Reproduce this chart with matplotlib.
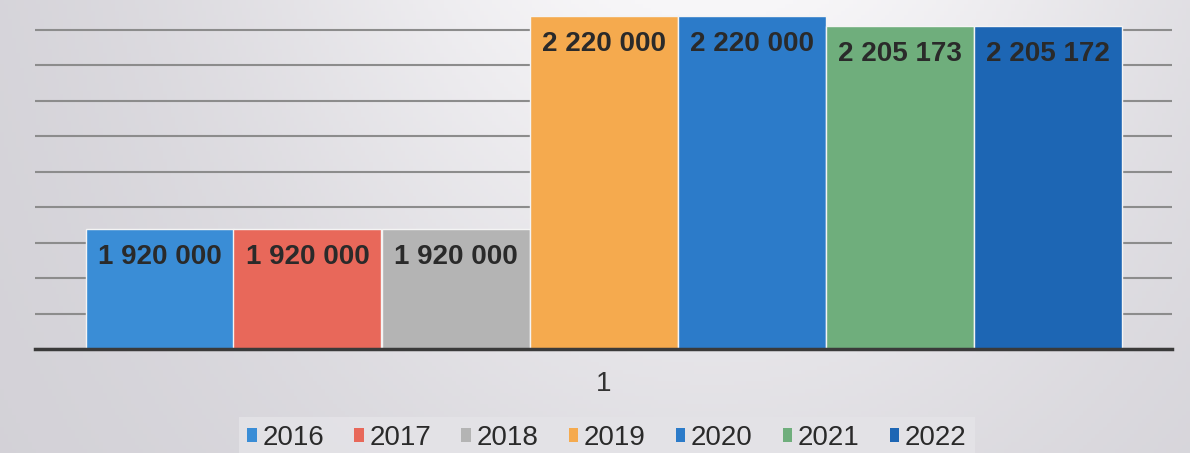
import numpy as np
import matplotlib
matplotlib.use("Agg")
import matplotlib.pyplot as plt
from matplotlib.patches import Patch

categories = ["1"]
series = ["2016", "2017", "2018", "2019", "2020", "2021", "2022"]
values = [1920000, 1920000, 1920000, 2220000, 2220000, 2205173, 2205172]
labels = ["1 920 000", "1 920 000", "1 920 000", "2 220 000", "2 220 000", "2 205 173", "2 205 172"]
colors = ["#3a8dd6", "#e8685a", "#b4b4b4", "#f5aa4e", "#2c7bc9", "#6fae7c", "#1d66b4"]

plt.rcParams['font.family'] = ['Liberation Sans', 'DejaVu Sans']

W, H = 1190, 453
fig = plt.figure(figsize=(W / 100, H / 100), dpi=100)

# background gradient (scanned look)
xx = np.linspace(0, 1, 300)[None, :]
yy = np.linspace(0, 1, 120)[:, None]
horiz = np.exp(-((xx - 0.6) / 0.42) ** 2)
vert = 1 - 0.6 * yy
light = 0.2 + 0.8 * horiz * vert
base = np.array([200, 198, 205]) / 255
top = np.array([248, 247, 249]) / 255
img = base[None, None, :] + (top - base)[None, None, :] * light[:, :, None]
bg = fig.add_axes([0, 0, 1, 1], zorder=-5)
bg.imshow(np.clip(img, 0, 1), aspect='auto', extent=[0, 1, 0, 1], origin='upper')
bg.axis('off')

ax = fig.add_axes([35 / W, 104 / H, (1172 - 35) / W, 1 - 104 / H])
ax.patch.set_alpha(0)

n = len(series)
w = 148 / 1137
x0 = np.arange(len(categories))
for i, (s, v, c, lab) in enumerate(zip(series, values, colors, labels)):
    xpos = x0 + (i - (n - 1) / 2) * w
    bars = ax.bar(xpos, [v], width=w, color=c, edgecolor='#f4f4f4', linewidth=1.0, label=s, zorder=3)
    for b in bars:
        ax.annotate(lab, (b.get_x() + b.get_width() / 2, b.get_height()),
                    xytext=(0, -28), textcoords='offset pixels',
                    ha='center', va='center', fontsize=20, fontweight='bold',
                    color='#2a2a2a', zorder=4)

ax.set_xlim(-0.5, 0.5)
ax.set_ylim(1750000, 2242400)
ax.set_yticks(np.arange(1750000, 2200001, 50000))
ax.yaxis.grid(True, color='#8c8c8c', linewidth=1.5, zorder=0)
ax.set_axisbelow(True)
ax.tick_params(axis='y', left=False, labelleft=False)
ax.set_xticks(x0)
ax.set_xticklabels(categories, fontsize=20, color='#333333')
ax.tick_params(axis='x', length=0, pad=16)
for sp in ['top', 'right', 'left']:
    ax.spines[sp].set_visible(False)
ax.spines['bottom'].set_color('#3a3a3a')
ax.spines['bottom'].set_linewidth(2.5)
ax.spines['bottom'].set_zorder(5)

handles = [Patch(facecolor=c, edgecolor='none') for c in colors]
leg = fig.legend(handles, series, loc='center', bbox_to_anchor=(607 / W, 1 - 438 / H),
                 ncol=n, fontsize=20, frameon=True, handlelength=0.35, handleheight=0.35,
                 handletextpad=0.2, columnspacing=1.08, borderpad=0.3, borderaxespad=0,
                 fancybox=False)
leg.get_frame().set_facecolor('#e4e3e7')
leg.get_frame().set_edgecolor('none')
leg.get_frame().set_alpha(0.9)
for t in leg.get_texts():
    t.set_color('#2a2a2a')

fig.savefig('out.png', dpi=100)
